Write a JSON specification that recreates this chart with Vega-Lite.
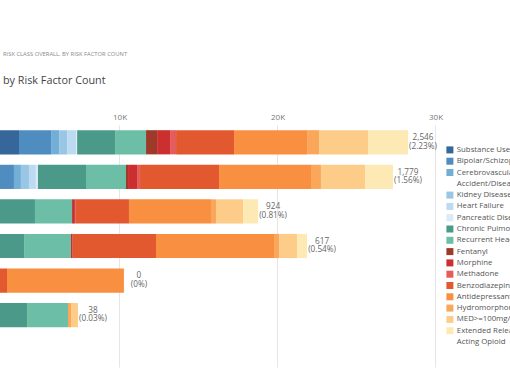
{
  "$schema": "https://vega.github.io/schema/vega-lite/v6.json",
  "width": 440,
  "height": 242,
  "autosize": {"type": "none"},
  "padding": {"left": 0, "top": 125, "right": 70, "bottom": 15},
  "background": "white",
  "config": {"font": "Open Sans", "view": {"stroke": null}},
  "title": {
    "text": "\u00a0\u00a0RISK CLASS OVERALL, BY RISK FACTOR COUNT",
    "subtitle": "by Risk Factor Count",
    "anchor": "start",
    "fontSize": 5.8,
    "fontWeight": "normal",
    "color": "#8a8a8a",
    "subtitleFontSize": 10.8,
    "subtitleColor": "#444444",
    "subtitlePadding": 18,
    "offset": 27,
    "dx": 3
  },
  "datasets": {
    "order": [
      {"f": "Substance Use Disorder", "i": 1},
      {"f": "Bipolar/Schizophrenia", "i": 2},
      {"f": "Cerebrovascular Accident/Disease", "i": 3},
      {"f": "Kidney Disease", "i": 4},
      {"f": "Heart Failure", "i": 5},
      {"f": "Pancreatic Disease", "i": 6},
      {"f": "Chronic Pulmonary Disease", "i": 7},
      {"f": "Recurrent Headache", "i": 8},
      {"f": "Fentanyl", "i": 9},
      {"f": "Morphine", "i": 10},
      {"f": "Methadone", "i": 11},
      {"f": "Benzodiazepine", "i": 12},
      {"f": "Antidepressant", "i": 13},
      {"f": "Hydromorphone", "i": 14},
      {"f": "MED>=100mg/day", "i": 15},
      {"f": "Extended Release/Long Acting Opioid", "i": 16}
    ],
    "labels": [
      {"r": "Very High", "count": "2,546", "pct": "(2.23%)"},
      {"r": "High", "count": "1,779", "pct": "(1.56%)"},
      {"r": "Elevated", "count": "924", "pct": "(0.81%)"},
      {"r": "Moderate", "count": "617", "pct": "(0.54%)"},
      {"r": "Low", "count": "0", "pct": "(0%)"},
      {"r": "Minimal", "count": "38", "pct": "(0.03%)"}
    ]
  },
  "data": {
    "values": [
      {"r": "Very High", "f": "Substance Use Disorder", "v": 3640},
      {"r": "Very High", "f": "Bipolar/Schizophrenia", "v": 2030},
      {"r": "Very High", "f": "Cerebrovascular Accident/Disease", "v": 510},
      {"r": "Very High", "f": "Kidney Disease", "v": 510},
      {"r": "Very High", "f": "Heart Failure", "v": 570},
      {"r": "Very High", "f": "Pancreatic Disease", "v": 60},
      {"r": "Very High", "f": "Chronic Pulmonary Disease", "v": 2400},
      {"r": "Very High", "f": "Recurrent Headache", "v": 1960},
      {"r": "Very High", "f": "Fentanyl", "v": 700},
      {"r": "Very High", "f": "Morphine", "v": 820},
      {"r": "Very High", "f": "Methadone", "v": 380},
      {"r": "Very High", "f": "Benzodiazepine", "v": 3670},
      {"r": "Very High", "f": "Antidepressant", "v": 4620},
      {"r": "Very High", "f": "Hydromorphone", "v": 760},
      {"r": "Very High", "f": "MED>=100mg/day", "v": 3100},
      {"r": "Very High", "f": "Extended Release/Long Acting Opioid", "v": 2530},
      {"r": "High", "f": "Substance Use Disorder", "v": 2000},
      {"r": "High", "f": "Bipolar/Schizophrenia", "v": 1320},
      {"r": "High", "f": "Cerebrovascular Accident/Disease", "v": 440},
      {"r": "High", "f": "Kidney Disease", "v": 510},
      {"r": "High", "f": "Heart Failure", "v": 440},
      {"r": "High", "f": "Pancreatic Disease", "v": 130},
      {"r": "High", "f": "Chronic Pulmonary Disease", "v": 3040},
      {"r": "High", "f": "Recurrent Headache", "v": 2530},
      {"r": "High", "f": "Fentanyl", "v": 130},
      {"r": "High", "f": "Morphine", "v": 570},
      {"r": "High", "f": "Methadone", "v": 190},
      {"r": "High", "f": "Benzodiazepine", "v": 5000},
      {"r": "High", "f": "Antidepressant", "v": 5820},
      {"r": "High", "f": "Hydromorphone", "v": 630},
      {"r": "High", "f": "MED>=100mg/day", "v": 2790},
      {"r": "High", "f": "Extended Release/Long Acting Opioid", "v": 1770},
      {"r": "Elevated", "f": "Chronic Pulmonary Disease", "v": 4650},
      {"r": "Elevated", "f": "Recurrent Headache", "v": 2340},
      {"r": "Elevated", "f": "Fentanyl", "v": 60},
      {"r": "Elevated", "f": "Morphine", "v": 130},
      {"r": "Elevated", "f": "Methadone", "v": 60},
      {"r": "Elevated", "f": "Benzodiazepine", "v": 3360},
      {"r": "Elevated", "f": "Antidepressant", "v": 5190},
      {"r": "Elevated", "f": "Hydromorphone", "v": 320},
      {"r": "Elevated", "f": "MED>=100mg/day", "v": 1710},
      {"r": "Elevated", "f": "Extended Release/Long Acting Opioid", "v": 950},
      {"r": "Moderate", "f": "Chronic Pulmonary Disease", "v": 3960},
      {"r": "Moderate", "f": "Recurrent Headache", "v": 2970},
      {"r": "Moderate", "f": "Morphine", "v": 110},
      {"r": "Moderate", "f": "Benzodiazepine", "v": 5270},
      {"r": "Moderate", "f": "Antidepressant", "v": 7470},
      {"r": "Moderate", "f": "Hydromorphone", "v": 320},
      {"r": "Moderate", "f": "MED>=100mg/day", "v": 1140},
      {"r": "Moderate", "f": "Extended Release/Long Acting Opioid", "v": 630},
      {"r": "Low", "f": "Benzodiazepine", "v": 2880},
      {"r": "Low", "f": "Antidepressant", "v": 7400},
      {"r": "Minimal", "f": "Chronic Pulmonary Disease", "v": 4150},
      {"r": "Minimal", "f": "Recurrent Headache", "v": 2590},
      {"r": "Minimal", "f": "Hydromorphone", "v": 190},
      {"r": "Minimal", "f": "MED>=100mg/day", "v": 440}
    ]
  },
  "encoding": {
    "y": {
      "field": "r",
      "type": "nominal",
      "axis": null,
      "scale": {
        "domain": ["Very High", "High", "Elevated", "Moderate", "Low", "Minimal", "None"],
        "paddingInner": 0.3,
        "paddingOuter": 0.15
      }
    }
  },
  "layer": [
    {
      "transform": [
        {"lookup": "f", "from": {"data": {"name": "order"}, "key": "f", "fields": ["i"]}}
      ],
      "mark": {"type": "bar", "clip": true},
      "encoding": {
        "x": {
          "field": "v",
          "type": "quantitative",
          "stack": "zero",
          "scale": {"domain": [2437, 30285], "nice": false, "zero": false},
          "axis": {
            "orient": "top",
            "title": null,
            "values": [10000, 20000, 30000],
            "labelExpr": "datum.value / 1000 + 'K'",
            "grid": true,
            "gridColor": "#e6e6e6",
            "domain": false,
            "ticks": false,
            "labelFontSize": 8,
            "labelColor": "#777777",
            "labelPadding": 4
          }
        },
        "order": {"field": "i", "type": "quantitative", "sort": "ascending"},
        "color": {
          "field": "f",
          "type": "nominal",
          "scale": {
            "domain": ["Substance Use Disorder", "Bipolar/Schizophrenia", "Cerebrovascular Accident/Disease", "Accident/Disease", "Kidney Disease", "Heart Failure", "Pancreatic Disease", "Chronic Pulmonary Disease", "Recurrent Headache", "Fentanyl", "Morphine", "Methadone", "Benzodiazepine", "Antidepressant", "Hydromorphone", "MED>=100mg/day", "Extended Release/Long Acting Opioid", "Acting Opioid"],
            "range": ["#35679a", "#4f8cbf", "#72aed6", "#ffffff", "#98c6e4", "#bcdaf1", "#dbeaf7", "#4b9a89", "#6cbea6", "#9e3a2a", "#cc2f30", "#e45c5c", "#e2592f", "#f98f40", "#fba75b", "#fccc88", "#fde9b3", "#ffffff"]
          },
          "legend": {
            "title": null,
            "orient": "none",
            "legendX": 446,
            "legendY": 21,
            "symbolType": "square",
            "symbolSize": 49,
            "symbolStrokeWidth": 0,
            "labelFontSize": 7.8,
            "labelColor": "#555555",
            "labelOffset": 3,
            "labelLimit": 300,
            "rowPadding": 2.3,
            "labelExpr": "datum.label == 'Cerebrovascular Accident/Disease' ? 'Cerebrovascular' : datum.label == 'Extended Release/Long Acting Opioid' ? 'Extended Release/Long' : datum.label"
          }
        }
      }
    },
    {
      "transform": [
        {"aggregate": [{"op": "sum", "field": "v", "as": "total"}], "groupby": ["r"]},
        {"lookup": "r", "from": {"data": {"name": "labels"}, "key": "r", "fields": ["count", "pct"]}}
      ],
      "layer": [
        {
          "mark": {"type": "text", "align": "center", "dx": 15, "dy": -4.3, "fontSize": 8.2, "color": "#666666"},
          "encoding": {
            "x": {"field": "total", "type": "quantitative"},
            "text": {"field": "count"}
          }
        },
        {
          "mark": {"type": "text", "align": "center", "dx": 15, "dy": 4.3, "fontSize": 8.2, "color": "#666666"},
          "encoding": {
            "x": {"field": "total", "type": "quantitative"},
            "text": {"field": "pct"}
          }
        }
      ]
    }
  ]
}
